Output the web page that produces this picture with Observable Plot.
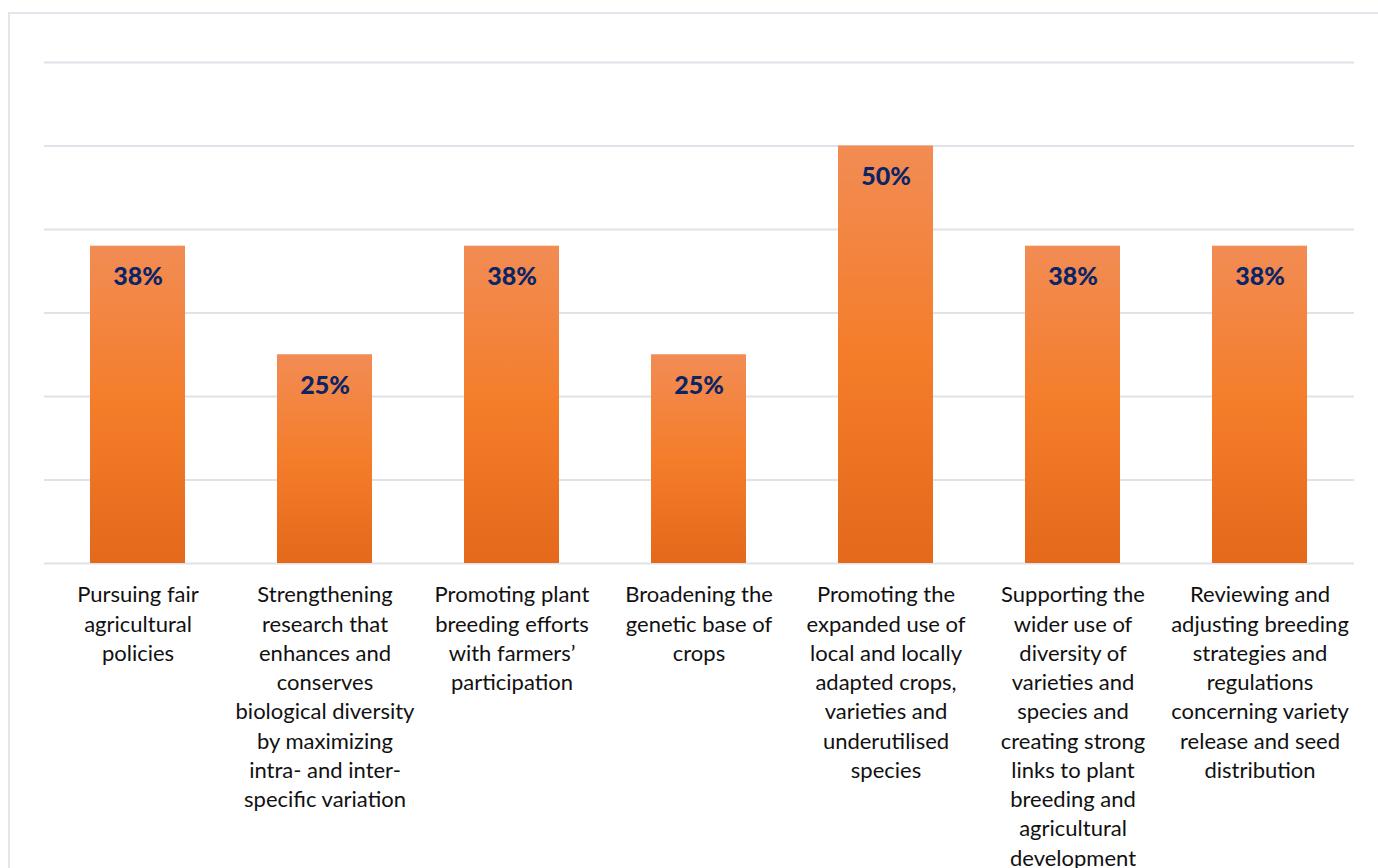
<!DOCTYPE html>
<html>
<head>
<meta charset="utf-8">
<script src="https://cdn.jsdelivr.net/npm/d3@7"></script>
<script src="https://cdn.jsdelivr.net/npm/@observablehq/plot@0.6"></script>
<style>
  html, body { margin: 0; padding: 0; background: #fff; overflow: hidden; }
  #wrap { position: relative; width: 1378px; height: 868px; overflow: hidden; }
  #border { position: absolute; left: 8px; top: 12px; width: 1420px; height: 900px;
            border-left: 2px solid #E2E5EB; border-top: 2px solid #E2E5EB; box-sizing: border-box; }
  #chart { position: absolute; left: 0; top: 0; }
</style>
</head>
<body>
<div id="wrap"><div id="border"></div><div id="chart"></div></div>
<script>
const categories = [
  "Pursuing fair agricultural policies",
  "Strengthening research that enhances and conserves biological diversity by maximizing intra- and inter-specific variation",
  "Promoting plant breeding efforts with farmers’ participation",
  "Broadening the genetic base of crops",
  "Promoting the expanded use of local and locally adapted crops, varieties and underutilised species",
  "Supporting the wider use of diversity of varieties and species and creating strong links to plant breeding and agricultural development",
  "Reviewing and adjusting breeding strategies and regulations concerning variety release and seed distribution"
];
const values = [0.38, 0.25, 0.38, 0.25, 0.50, 0.38, 0.38];
const valueLabels = ["38%", "25%", "38%", "25%", "50%", "38%", "38%"];
const tickLabels = [
  "Pursuing fair\nagricultural\npolicies",
  "Strengthening\nresearch that\nenhances and\nconserves\nbiological diversity\nby maximizing\nintra- and inter-\nspecific variation",
  "Promoting plant\nbreeding efforts\nwith farmers’\nparticipation",
  "Broadening the\ngenetic base of\ncrops",
  "Promoting the\nexpanded use of\nlocal and locally\nadapted crops,\nvarieties and\nunderutilised\nspecies",
  "Supporting the\nwider use of\ndiversity of\nvarieties and\nspecies and\ncreating strong\nlinks to plant\nbreeding and\nagricultural\ndevelopment",
  "Reviewing and\nadjusting breeding\nstrategies and\nregulations\nconcerning variety\nrelease and seed\ndistribution"
];
const gridTicks = [0, 0.1, 0.2, 0.3, 0.4, 0.5, 0.6];

const data = categories.map((c, i) => ({cat: c, value: values[i], label: valueLabels[i], tick: tickLabels[i]}));

const gradientDefs = () => {
  const defs = d3.create("svg:defs");
  const g = defs.append("linearGradient").attr("id", "barGrad")
    .attr("x1", 0).attr("y1", 0).attr("x2", 0).attr("y2", 1);
  g.append("stop").attr("offset", "0%").attr("stop-color", "#F28C54");
  g.append("stop").attr("offset", "50%").attr("stop-color", "#F47D2A");
  g.append("stop").attr("offset", "100%").attr("stop-color", "#E4691B");
  return defs.node();
};

const chart = Plot.plot({
  width: 1378,
  height: 868,
  marginLeft: 44,
  marginRight: 24,
  marginTop: 62,
  marginBottom: 305,
  style: { fontFamily: "Lato, sans-serif", background: "transparent" },
  x: { domain: categories, paddingInner: 0.49, paddingOuter: 0.245, axis: null },
  y: { domain: [0, 0.6], axis: null },
  marks: [
    gradientDefs,
    Plot.ruleY(gridTicks, { stroke: "#DFE2E8", strokeWidth: 2 }),
    Plot.barY(data, { x: "cat", y: "value", fill: "url(#barGrad)" }),
    Plot.text(data, {
      x: "cat", y: "value", text: "label",
      lineAnchor: "middle", dy: 31,
      fontSize: 25, fontWeight: 900, fill: "#0B2466"
    }),
    Plot.text(data, {
      x: "cat", y: () => 0, text: "tick",
      lineAnchor: "top", dy: 18, lineHeight: 1.33,
      fontSize: 22, fill: "#111", textAnchor: "middle"
    })
  ]
});
document.getElementById("chart").appendChild(chart);
</script>
</body>
</html>
